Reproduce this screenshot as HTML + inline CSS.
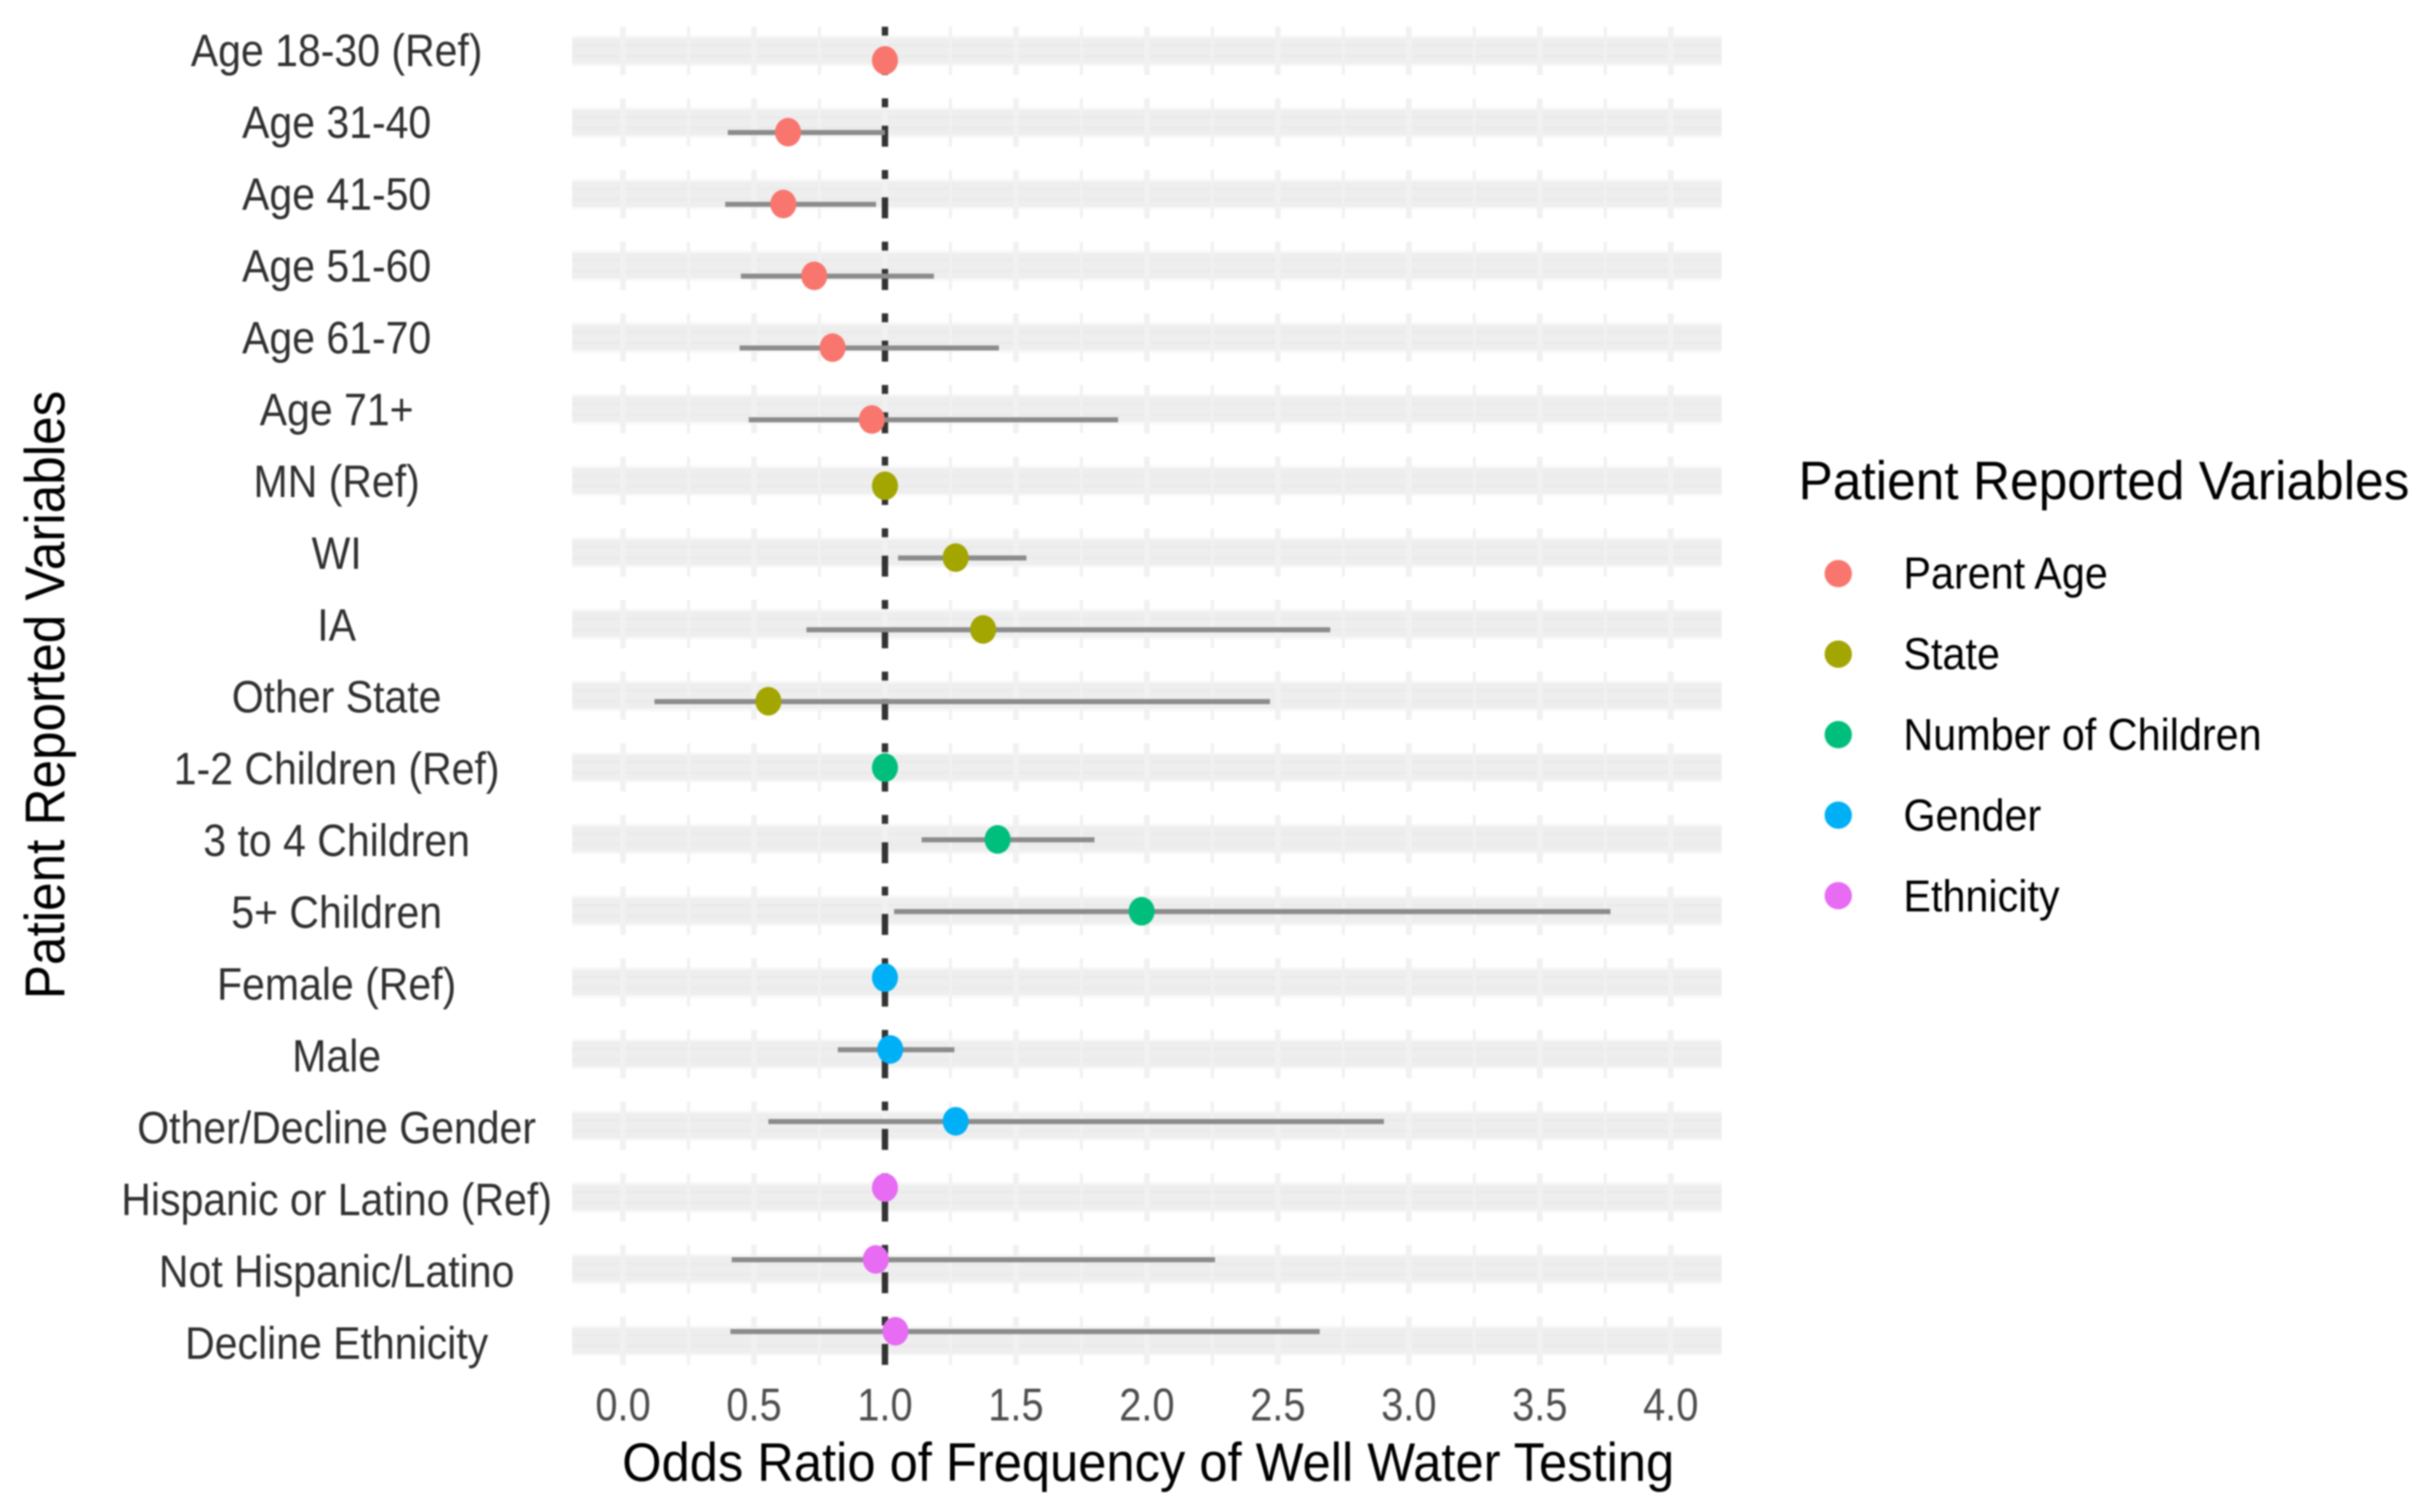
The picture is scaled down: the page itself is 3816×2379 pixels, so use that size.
<!DOCTYPE html>
<html lang="en">
<head>
<meta charset="utf-8">
<title>Odds Ratio of Frequency of Well Water Testing</title>
<style>
html,body{margin:0;padding:0;background:#fff;}
svg{display:block;font-family:"Liberation Sans",Arial,sans-serif;filter:blur(1.2px);}
</style>
</head>
<body>
<svg id="chart" xmlns="http://www.w3.org/2000/svg" width="3816" height="2379" viewBox="0 0 3816 2379">
<rect x="0" y="0" width="3816" height="2379" fill="#ffffff"/>
<g id="bands"></g>
<g id="grid"></g>
<g id="refline"></g>
<g id="intervals"></g>
<g id="points"></g>
<g id="ylabels"></g>
<g id="xlabels"></g>
<text transform="translate(1806,2330) scale(1,1.07)" text-anchor="middle" font-size="79.7" fill="#000000">Odds Ratio of Frequency of Well Water Testing</text>
<text transform="translate(101,1093.5) rotate(-90) scale(1,1.09)" text-anchor="middle" font-size="80.6" fill="#000000">Patient Reported Variables</text>
<text transform="translate(2829,785.5) scale(1,1.06)" font-size="80.9" fill="#000000">Patient Reported Variables</text>
<g id="legend"></g>
</svg>
<script>
const categories = ["Age 18-30 (Ref)","Age 31-40","Age 41-50","Age 51-60","Age 61-70","Age 71+","MN (Ref)","WI","IA","Other State","1-2 Children (Ref)","3 to 4 Children","5+ Children","Female (Ref)","Male","Other/Decline Gender","Hispanic or Latino (Ref)","Not Hispanic/Latino","Decline Ethnicity"];
const groupIndex = [0,0,0,0,0,0,1,1,1,1,2,2,2,3,3,3,4,4,4];
const estimate = [1,0.63,0.612,0.73,0.80,0.95,1,1.27,1.375,0.555,1,1.43,1.98,1,1.02,1.27,1,0.965,1.04];
const ciLow = [1,0.40,0.39,0.45,0.445,0.48,1,1.05,0.70,0.12,1,1.14,1.035,1,0.82,0.555,1,0.415,0.41];
const ciHigh = [1,1.0,0.966,1.187,1.435,1.89,1,1.54,2.70,2.47,1,1.80,3.77,1,1.265,2.905,1,2.26,2.66];
const xTickValues = [0,0.5,1,1.5,2,2.5,3,3.5,4];
const xTickLabels = ["0.0","0.5","1.0","1.5","2.0","2.5","3.0","3.5","4.0"];
const xGridValues = [0,0.25,0.5,0.75,1,1.25,1.5,1.75,2,2.25,2.5,2.75,3,3.25,3.5,3.75,4];
const groupNames = ["Parent Age","State","Number of Children","Gender","Ethnicity"];
const groupColors = ["#F8766D","#A3A500","#00BF7D","#00B0F6","#E76BF3"];
const referenceValue = 1;

const SVGNS = "http://www.w3.org/2000/svg";
const xScale = v => 980 + 412 * v;
const rowCenter = i => 80 + 112.75 * i;
const pointY = i => 95 + 113 * i - 8.6 * groupIndex[i];
const labelBaseline = i => 104 + 113 * i;
const legendDotY = g => 902.5 + 126.7 * g;
const legendTextY = g => 926 + 127 * g;

function make(parentId, tag, attrs, text) {
  const node = document.createElementNS(SVGNS, tag);
  for (const key in attrs) node.setAttribute(key, attrs[key]);
  if (text !== undefined) node.textContent = text;
  document.getElementById(parentId).appendChild(node);
  return node;
}
function slug(s) {
  return s.toLowerCase().replace(/[^a-z0-9]+/g, "-").replace(/^-|-$/g, "");
}

categories.forEach((name, i) => {
  const c = rowCenter(i);
  const key = slug(name);

  const halo = make("bands", "rect", {x: 900, y: c - 24, width: 1808, height: 48, fill: "#f8f8f8"});
  
  

  const band = make("bands", "rect", {x: 900, y: c - 20, width: 1808, height: 40, fill: "#eeeeee"});
  
  

  const stripeA = make("bands", "rect", {x: 900, y: c - 11, width: 1808, height: 5, fill: "#ebebeb"});
  
  

  const stripeB = make("bands", "rect", {x: 900, y: c + 6, width: 1808, height: 5, fill: "#ebebeb"});
  
  

  xGridValues.forEach((v, k) => {
    const major = k % 2 === 0;
    const w = major ? 9 : 5;
    const line = make("grid", "rect", {x: xScale(v) - w / 2, y: c - 38, width: w, height: 76, fill: "#f1f1f1"});
    
    
  });

  const refX = xScale(referenceValue) - 5;
  const dashTop = make("refline", "rect", {x: refX, y: c - 38, width: 10, height: 14, fill: "#333333"});
  
  

  const dashBottom = make("refline", "rect", {x: refX, y: c + 5, width: 10, height: 33, fill: "#333333"});
  
  

  if (ciHigh[i] > ciLow[i]) {
    const ci = make("intervals", "rect", {x: xScale(ciLow[i]), y: pointY(i) - 3.5, width: xScale(ciHigh[i]) - xScale(ciLow[i]), height: 8, fill: "#8c8c8c"});
    
    
  }

  const dot = make("points", "ellipse", {cx: xScale(estimate[i]), cy: pointY(i), rx: 20.5, ry: 22.5, fill: groupColors[groupIndex[i]]});
  
  

  const label = make("ylabels", "text", {transform: "translate(529.5," + labelBaseline(i) + ") scale(1,1.11)", "text-anchor": "middle", "font-size": 64.5, fill: "#303030"}, name);
  
  
});

xTickValues.forEach((v, k) => {
  const tick = make("xlabels", "text", {transform: "translate(" + xScale(v) + ",2235) scale(1,1.16)", "text-anchor": "middle", "font-size": 62.6, fill: "#4d4d4d"}, xTickLabels[k]);
  
  
});

groupNames.forEach((name, g) => {
  const key = slug(name);

  const swatch = make("legend", "circle", {cx: 2891.5, cy: legendDotY(g), r: 21.5, fill: groupColors[g]});
  
  

  const text = make("legend", "text", {transform: "translate(2994," + legendTextY(g) + ") scale(1,1.09)", "font-size": 65, fill: "#000000"}, name);
  
  
});
</script>
</body>
</html>
